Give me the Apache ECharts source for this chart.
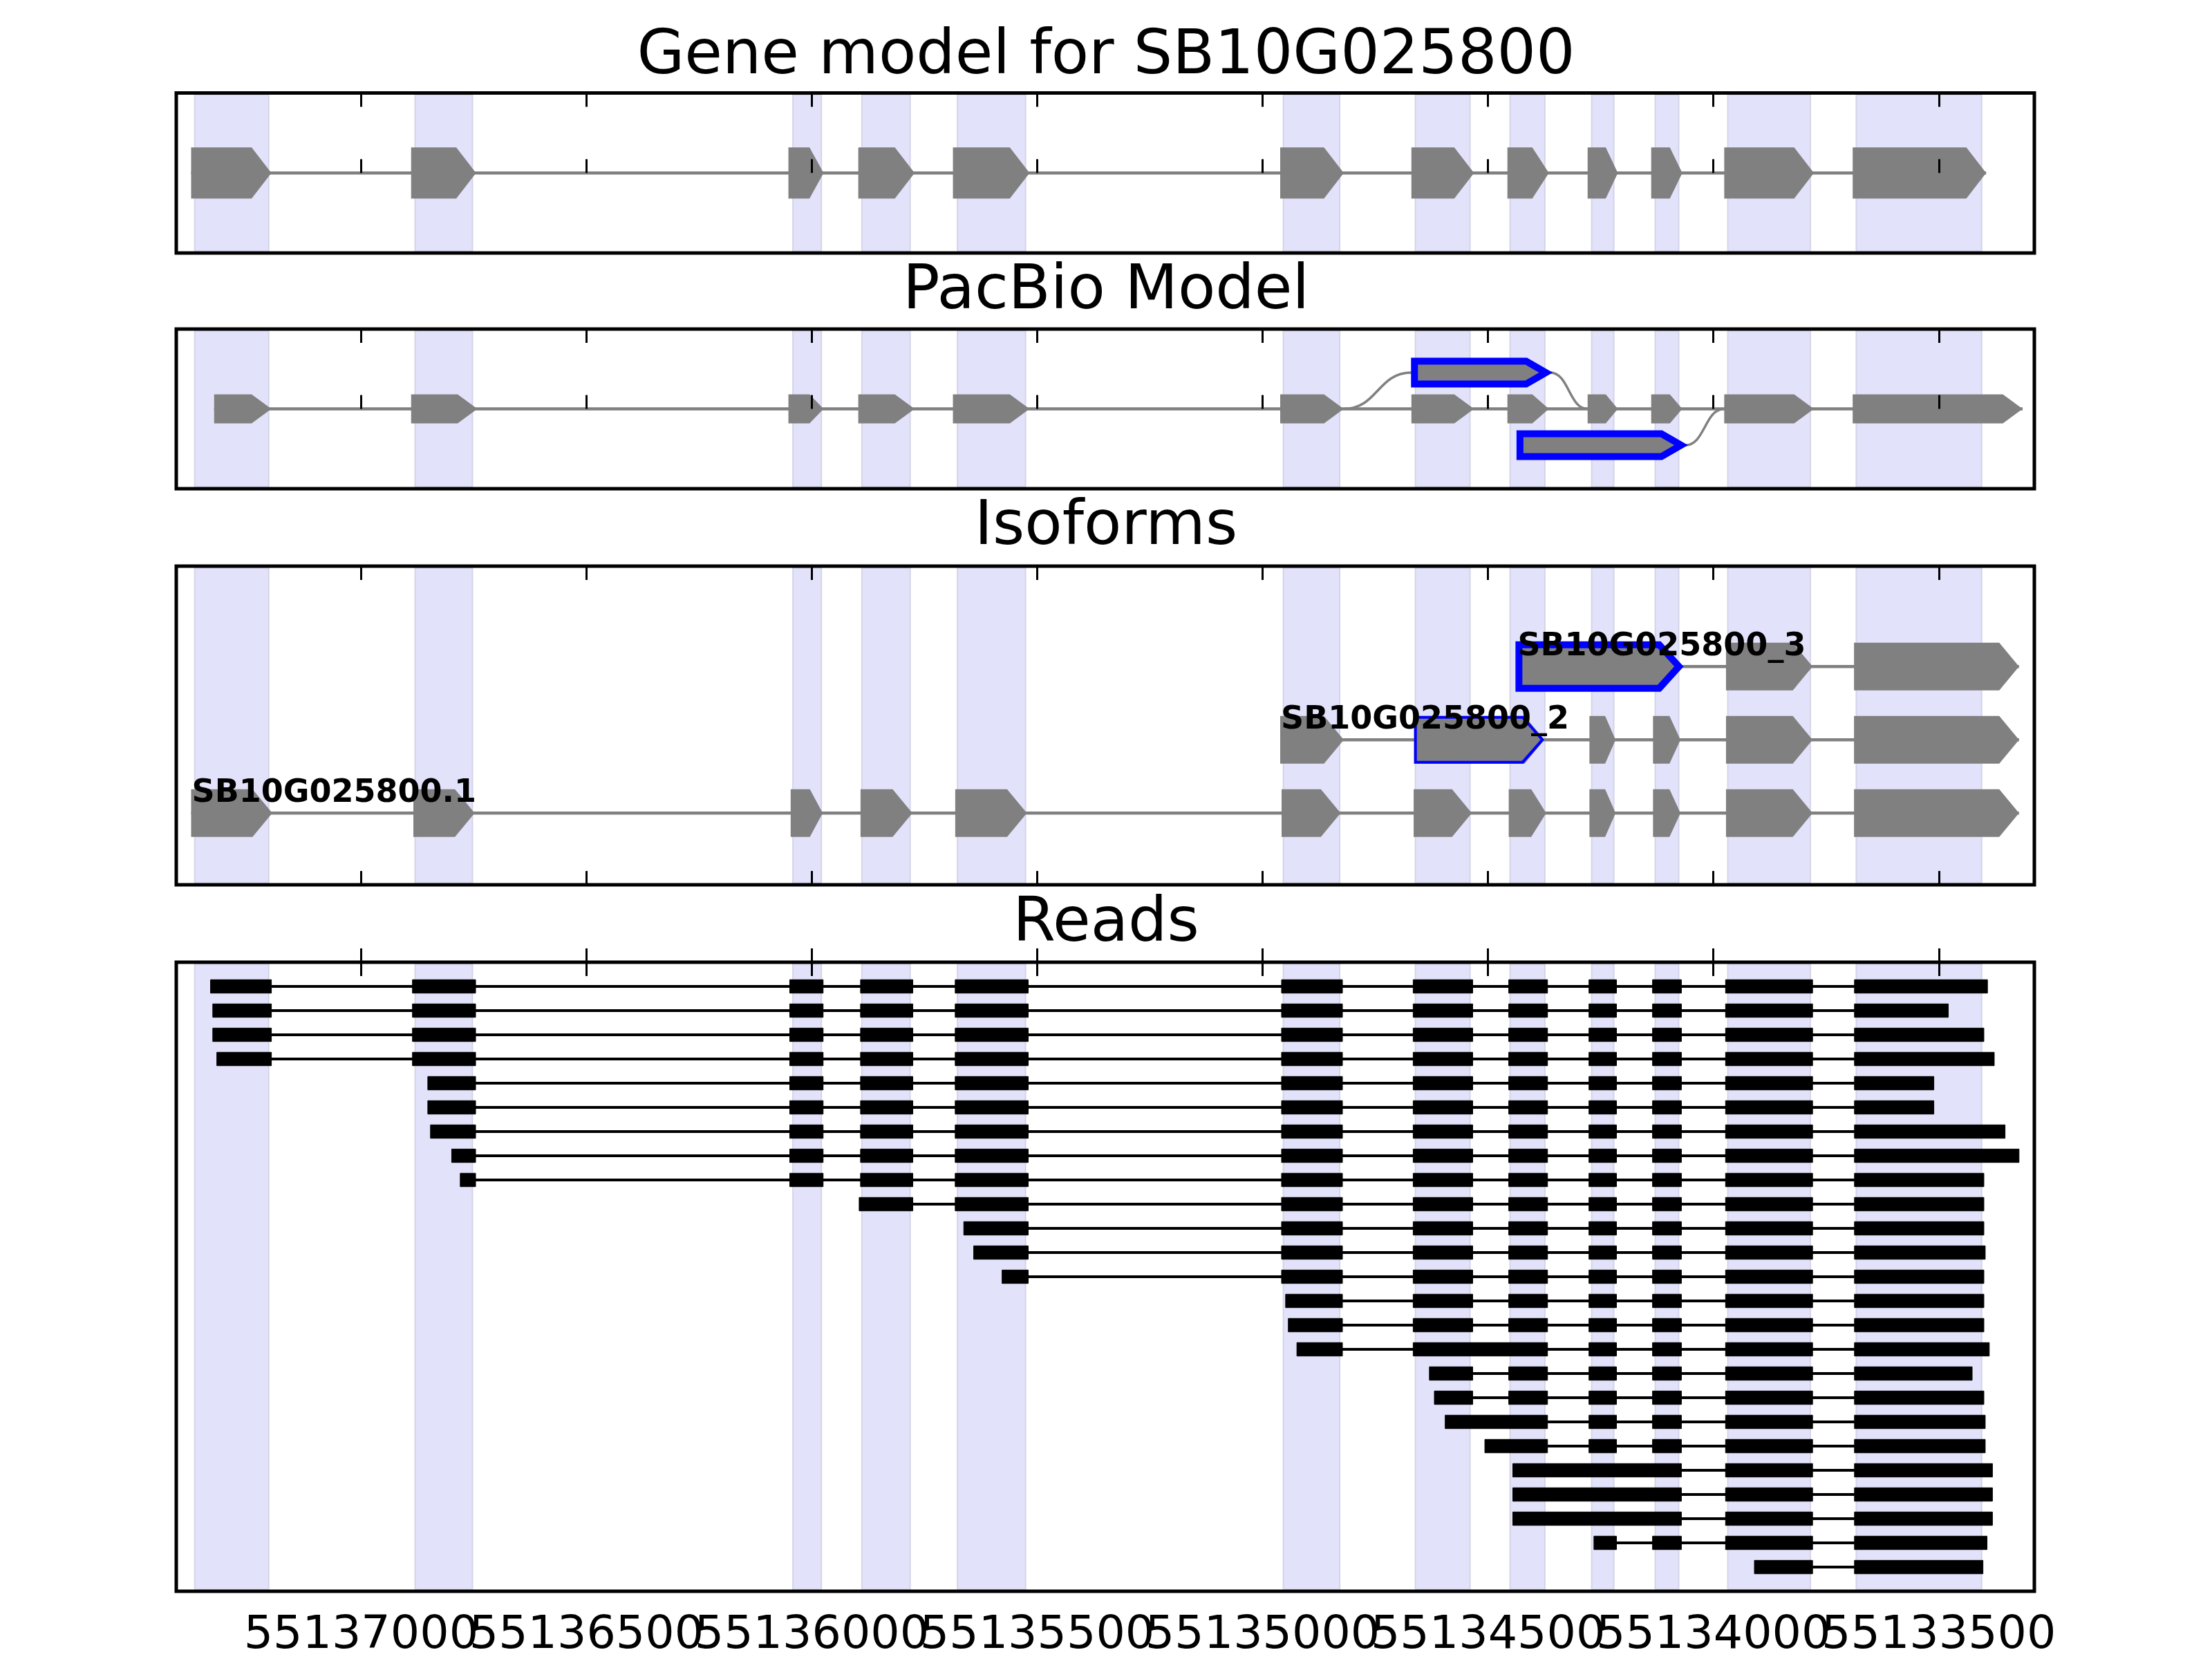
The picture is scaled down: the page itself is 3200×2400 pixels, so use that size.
<!DOCTYPE html>
<html><head><meta charset="utf-8">
<script src="https://cdn.jsdelivr.net/npm/echarts@6/dist/echarts.min.js"></script>
<style>html,body{margin:0;padding:0;background:#fff}#c{width:3200px;height:2400px}</style>
</head><body><div id="c"></div>
<script>
// ---------------- data ----------------
const xMin = 55133288, xMax = 55137410;
const tickValues = [55137000, 55136500, 55136000, 55135500, 55135000, 55134500, 55134000, 55133500];
const panelTitles = ['Gene model for SB10G025800', 'PacBio Model', 'Isoforms', 'Reads'];

const shadedExons = [[55137369,55137205],[55136880,55136753],[55136042,55135979],[55135889,55135782],[55135677,55135526],[55134954,55134829],[55134661,55134540],[55134451,55134374],[55134270,55134221],[55134129,55134077],[55133968,55133785],[55133683,55133405]];

const geneModelExons = [[55137377,55137199],[55136889,55136745],[55136052,55135974],[55135897,55135772],[55135687,55135517],[55134961,55134820],[55134670,55134531],[55134457,55134365],[55134279,55134212],[55134138,55134069],[55133976,55133777],[55133691,55133395]];

const pacbioExons = [[55137326,55137199],[55136889,55136742],[55136052,55135974],[55135897,55135772],[55135687,55135517],[55134961,55134820],[55134670,55134531],[55134457,55134365],[55134279,55134212],[55134138,55134069],[55133976,55133777],[55133691,55133314]];
// [start, end, row]  row 1 = upper, -1 = lower
const pacbioAltExons = [[55134670,55134362,1],[55134436,55134062,-1]];
// [fromPos, fromRow, toPos, toRow]
const pacbioJunctions = [[55134820,0,55134670,1],[55134362,1,55134279,0],[55134062,-1,55133976,0]];

const isoformNames = ['SB10G025800.1', 'SB10G025800_2', 'SB10G025800_3'];
const isoform1Exons = [[55137377,55137197],[55136884,55136748],[55136047,55135976],[55135892,55135777],[55135682,55135523],[55134958,55134827],[55134665,55134536],[55134454,55134371],[55134275,55134217],[55134134,55134073],[55133972,55133780],[55133688,55133322]];
const isoform2Exons = [[55134961,55134820],[55134664,55134375],[55134275,55134217],[55134134,55134073],[55133972,55133780],[55133688,55133322]];
const isoform3Exons = [[55134436,55134070],[55133972,55133780],[55133688,55133322]];
// retained-intron exons: [start, end, isoform row]
const isoformRetained = [[55134664,55134375,2],[55134436,55134070,3]];

const reads = [
 [[55137334,55137199],[55136886,55136746],[55136049,55135975],[55135892,55135776],[55135682,55135520],[55134958,55134823],[55134666,55134534],[55134454,55134368],[55134276,55134215],[55134135,55134071],[55133973,55133780],[55133687,55133392]],
 [[55137329,55137199],[55136886,55136746],[55136049,55135975],[55135892,55135776],[55135682,55135520],[55134958,55134823],[55134666,55134534],[55134454,55134368],[55134276,55134215],[55134135,55134071],[55133973,55133780],[55133687,55133479]],
 [[55137329,55137199],[55136886,55136746],[55136049,55135975],[55135892,55135776],[55135682,55135520],[55134958,55134823],[55134666,55134534],[55134454,55134368],[55134276,55134215],[55134135,55134071],[55133973,55133780],[55133687,55133400]],
 [[55137320,55137199],[55136886,55136746],[55136049,55135975],[55135892,55135776],[55135682,55135520],[55134958,55134823],[55134666,55134534],[55134454,55134368],[55134276,55134215],[55134135,55134071],[55133973,55133780],[55133687,55133377]],
 [[55136852,55136746],[55136049,55135975],[55135892,55135776],[55135682,55135520],[55134958,55134823],[55134666,55134534],[55134454,55134368],[55134276,55134215],[55134135,55134071],[55133973,55133780],[55133687,55133511]],
 [[55136852,55136746],[55136049,55135975],[55135892,55135776],[55135682,55135520],[55134958,55134823],[55134666,55134534],[55134454,55134368],[55134276,55134215],[55134135,55134071],[55133973,55133780],[55133687,55133511]],
 [[55136846,55136746],[55136049,55135975],[55135892,55135776],[55135682,55135520],[55134958,55134823],[55134666,55134534],[55134454,55134368],[55134276,55134215],[55134135,55134071],[55133973,55133780],[55133687,55133353]],
 [[55136799,55136746],[55136049,55135975],[55135892,55135776],[55135682,55135520],[55134958,55134823],[55134666,55134534],[55134454,55134368],[55134276,55134215],[55134135,55134071],[55133973,55133780],[55133687,55133322]],
 [[55136780,55136746],[55136049,55135975],[55135892,55135776],[55135682,55135520],[55134958,55134823],[55134666,55134534],[55134454,55134368],[55134276,55134215],[55134135,55134071],[55133973,55133780],[55133687,55133400]],
 [[55135895,55135776],[55135682,55135520],[55134958,55134823],[55134666,55134534],[55134454,55134368],[55134276,55134215],[55134135,55134071],[55133973,55133780],[55133687,55133400]],
 [[55135663,55135520],[55134958,55134823],[55134666,55134534],[55134454,55134368],[55134276,55134215],[55134135,55134071],[55133973,55133780],[55133687,55133400]],
 [[55135641,55135520],[55134958,55134823],[55134666,55134534],[55134454,55134368],[55134276,55134215],[55134135,55134071],[55133973,55133780],[55133687,55133397]],
 [[55135578,55135520],[55134958,55134823],[55134666,55134534],[55134454,55134368],[55134276,55134215],[55134135,55134071],[55133973,55133780],[55133687,55133400]],
 [[55134949,55134823],[55134666,55134534],[55134454,55134368],[55134276,55134215],[55134135,55134071],[55133973,55133780],[55133687,55133400]],
 [[55134943,55134823],[55134666,55134534],[55134454,55134368],[55134276,55134215],[55134135,55134071],[55133973,55133780],[55133687,55133400]],
 [[55134924,55134823],[55134666,55134368],[55134276,55134215],[55134135,55134071],[55133973,55133780],[55133687,55133388]],
 [[55134630,55134534],[55134454,55134368],[55134276,55134215],[55134135,55134071],[55133973,55133780],[55133687,55133426]],
 [[55134619,55134534],[55134454,55134368],[55134276,55134215],[55134135,55134071],[55133973,55133780],[55133687,55133400]],
 [[55134595,55134368],[55134276,55134215],[55134135,55134071],[55133973,55133780],[55133687,55133397]],
 [[55134507,55134368],[55134276,55134215],[55134135,55134071],[55133973,55133780],[55133687,55133397]],
 [[55134445,55134071],[55133973,55133780],[55133687,55133381]],
 [[55134445,55134071],[55133973,55133780],[55133687,55133381]],
 [[55134445,55134071],[55133973,55133780],[55133687,55133381]],
 [[55134265,55134215],[55134135,55134071],[55133973,55133780],[55133687,55133393]],
 [[55133909,55133780],[55133687,55133402]]
];

// ---------------- rendering helpers ----------------
const GRAY = '#808080', BLUE = '#0000ff';
const FONT = 'DejaVu Sans';
const TIP = 28.6;

function xr(api, a, b) {
  const p = api.coord([a, 0])[0], q = api.coord([b, 0])[0];
  return [Math.min(p, q), Math.max(p, q)];
}
function arrowPoints(x1, x2, yc, h, tipMax, inset) {
  inset = inset || 0;
  const tip = Math.min(tipMax, 0.4 * (x2 - x1));
  const l = x1 + inset, r = x2 - inset * 1.4, t = yc - h + inset, bt = yc + h - inset;
  return [[l, t], [r - tip, t], [r, yc], [r - tip, bt], [l, bt]];
}
function shadeRender(params, api) {
  const cs = params.coordSys;
  const [a, b] = xr(api, api.value(0), api.value(1));
  return {type: 'rect', shape: {x: a, y: cs.y + 2.5, width: b - a, height: cs.height - 5},
    style: {fill: '#e2e2fb', stroke: '#d4d4e8', lineWidth: 2}};
}
function exonRender(halfH, fill, stroke, lw, insetK) {
  return function (params, api) {
    const [a, b] = xr(api, api.value(0), api.value(1));
    const yc = api.coord([api.value(0), api.value(2)])[1];
    return {type: 'polygon', shape: {points: arrowPoints(a, b, yc, halfH, TIP, lw ? lw * insetK : 0)},
      style: {fill: fill, stroke: stroke || null, lineWidth: lw || 0, lineJoin: 'miter'}};
  };
}
function intronRender(color, lw) {
  return function (params, api) {
    const [a, b] = xr(api, api.value(0), api.value(1));
    const yc = api.coord([api.value(0), api.value(2)])[1];
    return {type: 'line', shape: {x1: a, y1: yc, x2: b, y2: yc}, style: {stroke: color, lineWidth: lw}};
  };
}
function blockRender(halfH) {
  return function (params, api) {
    const [a, b] = xr(api, api.value(0), api.value(1));
    const yc = api.coord([api.value(0), api.value(2)])[1];
    return {type: 'rect', shape: {x: a, y: yc - halfH, width: b - a, height: 2 * halfH},
      style: {fill: '#000', stroke: '#000', lineWidth: 1}};
  };
}
function junctionRender(params, api) {
  const p = api.coord([api.value(0), api.value(1)]);
  const q = api.coord([api.value(2), api.value(3)]);
  const mx = (p[0] + q[0]) / 2;
  return {type: 'bezierCurve', shape: {x1: p[0], y1: p[1], x2: q[0], y2: q[1], cpx1: mx, cpy1: p[1], cpx2: mx, cpy2: q[1]},
    style: {stroke: GRAY, lineWidth: 3.5, fill: null}};
}
function labelRender(params, api) {
  const p = api.coord([api.value(0), api.value(1)]);
  return {type: 'text', style: {x: p[0] + 1, y: p[1] - 28.5, text: isoformNames[params.dataIndex],
    fill: '#000', font: 'bold 46px "DejaVu Sans"', align: 'left', verticalAlign: 'middle'}};
}
const span = (exons, row) => [Math.max(...exons.map(e => e[0])), Math.min(...exons.map(e => e[1])), row];
const withRow = (exons, row) => exons.map(e => [e[0], e[1], row]);

// ---------------- layout ----------------
const grids = [
  {left: 255, top: 134.5, width: 2688, height: 231.5},
  {left: 255, top: 476, width: 2688, height: 231},
  {left: 255, top: 819, width: 2688, height: 461},
  {left: 255, top: 1392, width: 2688, height: 921}
].map(g => Object.assign(g, {show: true, borderColor: '#000', borderWidth: 5, backgroundColor: 'transparent', z: 6}));

const titleTops = [38, 378, 719, 1293];
const labelStyle = {formatter: v => String(v), showMinLabel: true, showMaxLabel: true,
  fontSize: 66.7, fontFamily: FONT, color: '#000', margin: 31};
function makeAxis(grid, pos, ticks, labelValues) {
  return {
    type: 'value', gridIndex: grid, position: pos, offset: 0, min: xMin, max: xMax, inverse: true, z: 5,
    axisLine: {show: false}, splitLine: {show: false},
    axisTick: {show: ticks, inside: true, length: 20, lineStyle: {color: '#000', width: 3}, customValues: tickValues},
    axisLabel: labelValues ? Object.assign({show: true, customValues: labelValues}, labelStyle) : {show: false}
  };
}
const xAxes = [];
for (let i = 0; i < 4; i++) {
  const bottomLabels = i === 3 ? tickValues.filter((v, k) => k % 2 === 0) : null;
  xAxes.push(makeAxis(i, 'bottom', true, bottomLabels));
  xAxes.push(makeAxis(i, 'top', true, null));
}
// second label-only axis for the bottom panel (alternate tick labels, so that touching labels are all kept)
xAxes.push(makeAxis(3, 'bottom', false, tickValues.filter((v, k) => k % 2 === 1)));

const yRanges = [[-1, 1], [-2.2, 2.2], [0.02, 4.37], [0, 26]];
const yAxes = yRanges.map((r, i) => ({type: 'value', gridIndex: i, min: r[0], max: r[1], inverse: i === 3, show: false}));

const series = [];
function add(grid, data, renderItem, z) {
  series.push({type: 'custom', xAxisIndex: grid * 2, yAxisIndex: grid, data: data, renderItem: renderItem,
    encode: {x: [0], y: [1]}, z: z, silent: true, animation: false, clip: false});
}
// shading in all panels
for (let g = 0; g < 4; g++) add(g, shadedExons.map(e => [e[0], e[1], 0]), shadeRender, 1);

// panel 1: gene model
add(0, [span(geneModelExons, 0)], intronRender(GRAY, 4.5), 2);
add(0, withRow(geneModelExons, 0), exonRender(37, GRAY), 3);

// panel 2: PacBio model
add(1, [span(pacbioExons, 0)], intronRender(GRAY, 4.5), 2);
add(1, pacbioJunctions, junctionRender, 2);
add(1, withRow(pacbioExons, 0), exonRender(21, GRAY), 3);
add(1, pacbioAltExons, exonRender(21, GRAY, BLUE, 10, 0.45), 4);

// panel 3: isoforms
const isoLists = [isoform1Exons, isoform2Exons, isoform3Exons];
add(2, isoLists.map((ex, i) => span(ex, i + 1)), intronRender(GRAY, 4.5), 2);
add(2, isoLists.flatMap((ex, i) => withRow(ex, i + 1)), exonRender(34.5, GRAY), 3);
add(2, isoformRetained.filter(r => r[2] === 2), exonRender(34.5, GRAY, BLUE, 4, 0.5), 4);
add(2, isoformRetained.filter(r => r[2] === 3), exonRender(34.5, GRAY, BLUE, 10, 0.3), 4);
add(2, isoLists.map((ex, i) => [ex[0][0], i + 1]), labelRender, 5);

// panel 4: reads
add(3, reads.map((b, i) => [b[0][1], b[b.length - 1][0], i + 1]), intronRender('#000', 4), 2);
add(3, reads.flatMap((b, i) => withRow(b, i + 1)), blockRender(9.7), 3);

const chart = echarts.init(document.getElementById('c'), null, {renderer: 'canvas'});
chart.setOption({
  backgroundColor: '#fff',
  animation: false,
  title: panelTitles.map((t, i) => ({text: t, left: 'center', top: titleTops[i], padding: 0,
    textStyle: {fontSize: 88.9, fontWeight: 'normal', fontFamily: FONT, color: '#000'}})),
  grid: grids,
  xAxis: xAxes,
  yAxis: yAxes,
  series: series
});
</script>
</body></html>
